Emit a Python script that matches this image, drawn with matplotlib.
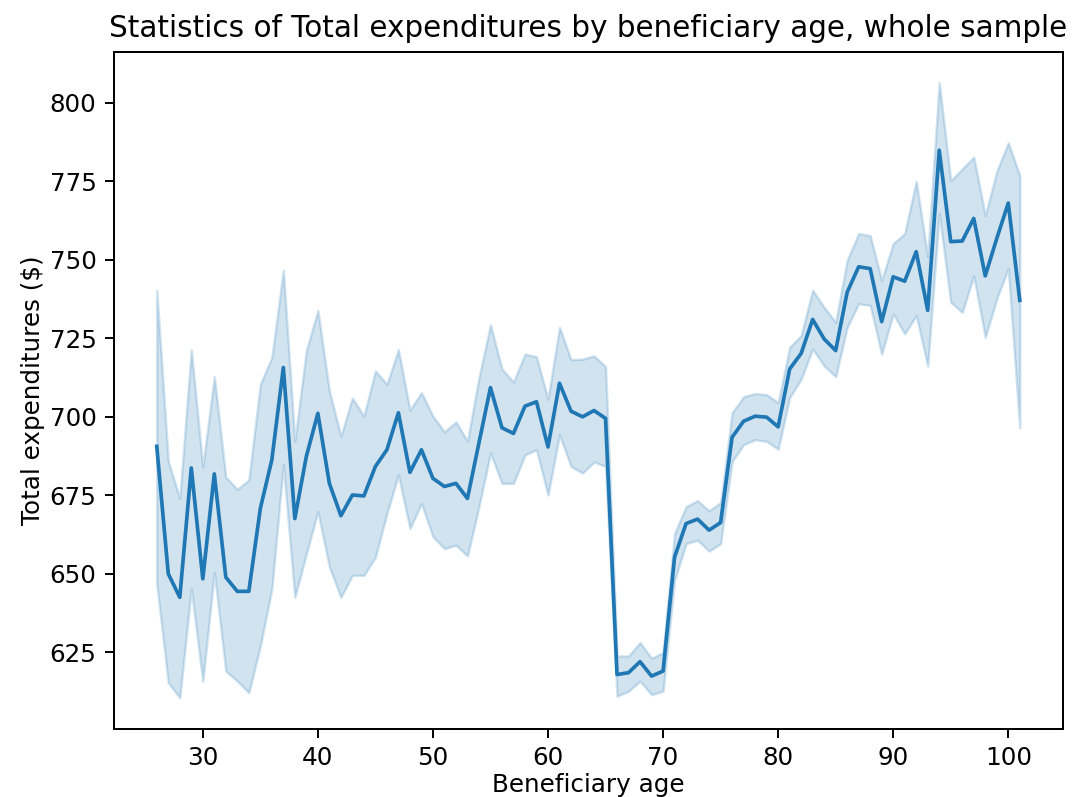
import matplotlib
matplotlib.use("Agg")
import matplotlib.pyplot as plt
import numpy as np

# beneficiary ages shown on the x axis
ages = np.arange(26, 102)

# mean of total expenditures per age
mean_exp = [
    690.6, 650.0, 642.5, 683.7, 648.4, 681.8, 648.9, 644.4, 644.4, 670.8,
    686.3, 715.7, 667.6, 687.4, 701.1, 678.8, 668.5, 675.1, 674.8, 684.2,
    689.5, 701.3, 682.3, 689.5, 680.4, 677.8, 678.8, 674.0, 691.7, 709.3,
    696.5, 694.7, 703.4, 704.8, 690.4, 710.7, 701.8, 700.0, 702.0, 699.5,
    617.9, 618.5, 622.0, 617.4, 619.0, 655.3, 666.0, 667.4, 663.9, 666.3,
    693.5, 698.6, 700.2, 699.9, 696.8, 715.2, 720.2, 731.0, 724.8, 721.1,
    739.7, 747.8, 747.2, 730.3, 744.6, 743.2, 752.6, 733.9, 784.9, 755.8,
    756.0, 763.2, 744.9, 756.8, 768.1, 737.1,
]

# upper bound of the confidence band
upper_exp = [
    740.3, 685.8, 674.0, 721.4, 684.0, 712.8, 680.8, 676.9, 679.9, 710.4,
    718.9, 746.7, 692.2, 721.1, 733.9, 708.2, 693.8, 706.0, 700.2, 714.6,
    710.4, 721.4, 702.1, 707.7, 700.2, 695.2, 698.4, 692.2, 712.5, 729.3,
    715.2, 711.1, 720.0, 719.1, 705.6, 728.5, 718.2, 718.4, 719.4, 716.0,
    623.8, 623.8, 628.1, 623.1, 624.9, 662.8, 671.4, 673.3, 670.1, 672.7,
    701.3, 706.4, 707.4, 707.1, 704.5, 722.1, 725.9, 740.3, 734.9, 730.1,
    749.9, 758.4, 757.7, 743.5, 755.2, 758.4, 775.0, 751.0, 806.5, 775.2,
    779.0, 782.7, 764.1, 778.2, 787.3, 776.9,
]

# lower bound of the confidence band
lower_exp = [
    646.8, 615.3, 610.5, 645.2, 615.8, 650.5, 619.0, 615.8, 612.1, 627.0,
    645.2, 684.7, 642.5, 656.4, 669.8, 652.2, 642.5, 649.5, 649.5, 655.3,
    669.2, 681.5, 664.4, 672.4, 661.8, 658.0, 659.1, 655.7, 671.4, 688.5,
    678.8, 678.8, 687.9, 689.5, 675.1, 694.3, 684.2, 682.1, 685.6, 684.2,
    611.0, 612.6, 615.8, 611.5, 612.6, 647.9, 659.6, 660.7, 657.2, 659.6,
    685.8, 691.1, 692.7, 692.2, 689.7, 706.1, 712.0, 721.6, 716.2, 712.8,
    728.5, 736.0, 735.5, 720.0, 732.8, 726.4, 732.3, 716.2, 764.8, 736.5,
    733.3, 744.9, 725.3, 737.6, 747.2, 696.5,
]

DPI = 177
fig = plt.figure(figsize=(1079 / DPI, 797 / DPI), dpi=DPI)
ax = fig.add_axes([0.1053, 0.0859, 0.8798, 0.8492])

color = "#1f77b4"
ax.fill_between(ages, lower_exp, upper_exp, color=color, alpha=0.2)
ax.plot(ages, mean_exp, color=color, linewidth=1.5)

ax.set_xticks([30, 40, 50, 60, 70, 80, 90, 100])
ax.set_yticks([625, 650, 675, 700, 725, 750, 775, 800])
ax.set_title("Statistics of Total expenditures by beneficiary age, whole sample")
ax.set_xlabel("Beneficiary age", labelpad=1.5)
ax.set_ylabel("Total expenditures ($)", labelpad=2)

fig.savefig("out.png", dpi=DPI)
